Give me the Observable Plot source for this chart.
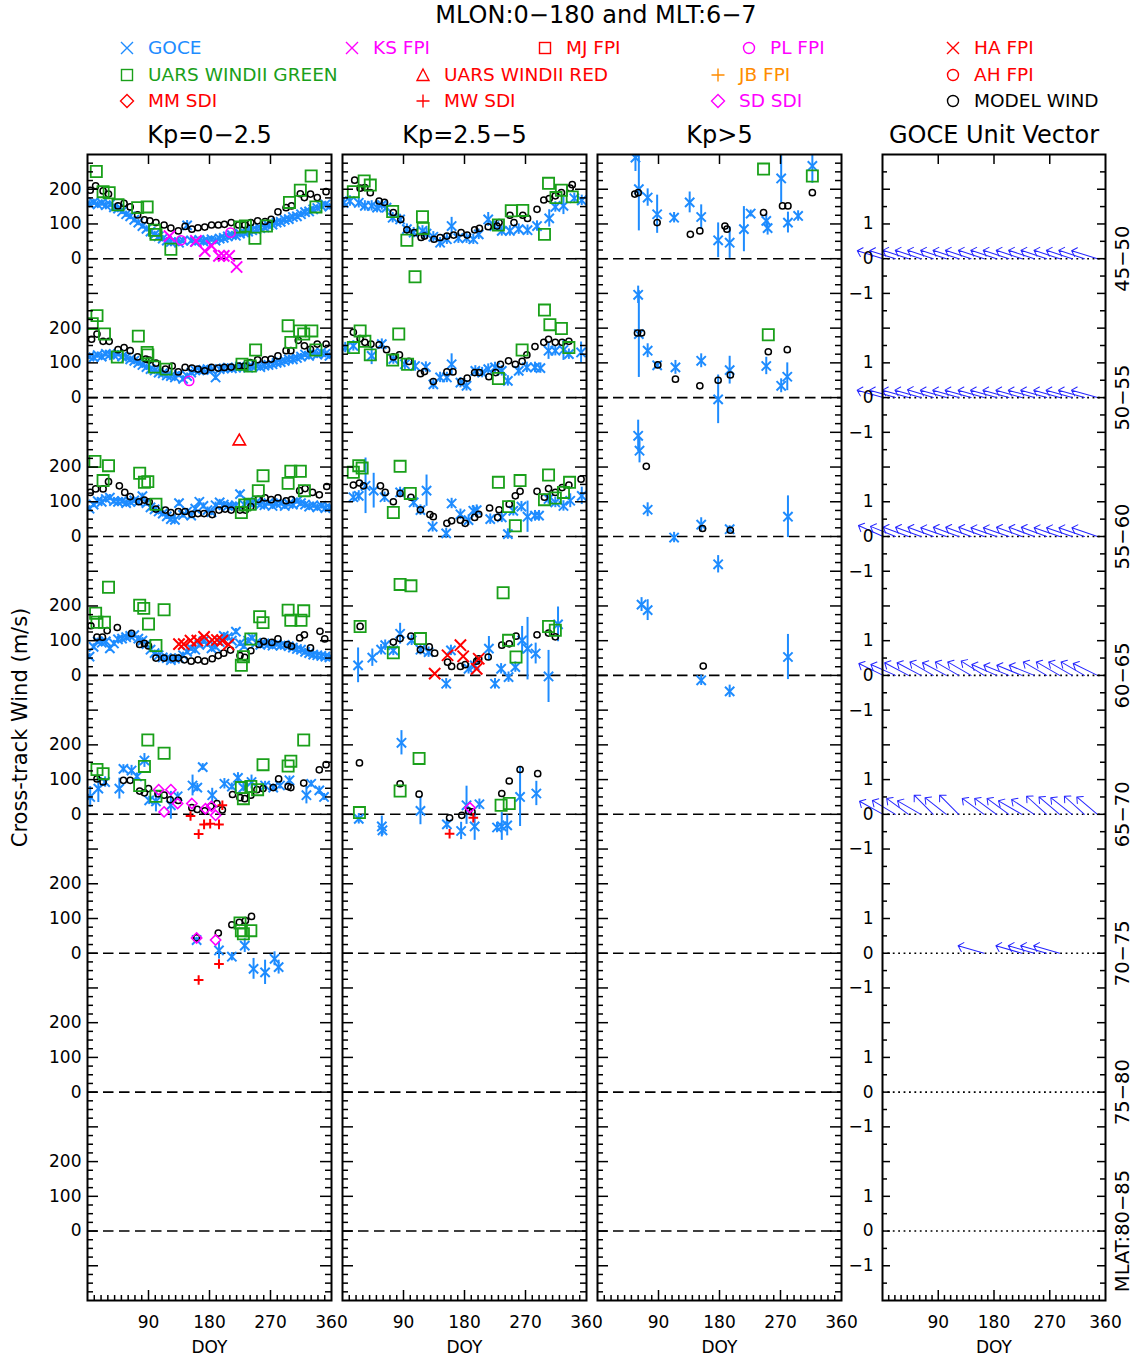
<!DOCTYPE html>
<html>
<head>
<meta charset="utf-8">
<title>Cross-track wind by magnetic latitude, MLON 0–180, MLT 6–7</title>
<script src="https://cdn.jsdelivr.net/npm/d3@7"></script>
<script src="https://cdn.jsdelivr.net/npm/@observablehq/plot@0.6"></script>
<style>
  html, body { margin: 0; padding: 0; background: #fff; }
  #figure { position: relative; width: 1133px; height: 1361px; overflow: hidden; font-family: "DejaVu Sans", sans-serif; color: #000; }
  #figure svg.panel { position: absolute; top: 0; }
  .title { position: absolute; left: 296px; width: 600px; top: 1px; text-align: center; font-size: 24px; line-height: 28px; }
  .lg-sym { position: absolute; width: 16px; height: 16px; }
  .lg-txt { position: absolute; font-size: 18.5px; line-height: 20px; white-space: nowrap; }
</style>
</head>
<body>
<div id="figure"></div>
<script>
// ---------- categories and labels ----------
const BANDS = ["45−50", "50−55", "55−60", "60−65", "65−70", "70−75", "75−80", "80−85"];
const KP_TITLES = ["Kp=0−2.5", "Kp=2.5−5", "Kp>5"];
const DOY_LABELS = [90, 180, 270, 360];
const BAND_LABEL_VALUES = [0, 100, 200];       // m/s labels repeated in every band
const UNIT_LABEL_VALUES = [-1, 0, 1];          // unit-vector labels repeated in every band

// ---------- GOCE cross-track wind: [band, doy, wind m/s, error m/s] ----------
const goceKp1 = [
  [0,3,158],[0,9,162],[0,15,156],[0,21,160],[0,27,154],[0,33,156],[0,39,148],[0,45,144],[0,51,136],[0,57,128],
  [0,63,122],[0,69,112],[0,75,104],[0,81,94],[0,87,86],[0,93,78],[0,99,70],[0,105,64],[0,111,58],[0,117,52],
  [0,123,48],[0,129,50],[0,135,46],[0,141,52],[0,147,96,14],[0,153,52],[0,159,48],[0,165,54],[0,171,50],[0,177,52],
  [0,183,56],[0,189,52],[0,195,58],[0,201,60],[0,207,64],[0,213,68],[0,219,66],[0,225,72],[0,231,76],[0,237,78],
  [0,243,82],[0,249,84],[0,255,88],[0,261,90],[0,267,96],[0,273,98],[0,279,104],[0,285,106],[0,291,112],[0,297,114],
  [0,303,120],[0,309,122],[0,315,128],[0,321,134],[0,327,136],[0,333,142],[0,339,146],[0,345,152],[0,351,156],[0,357,150],
  [1,3,118],[1,9,116],[1,15,122],[1,21,118],[1,27,126],[1,33,124],[1,39,122],[1,45,126],[1,51,118],[1,57,116],
  [1,63,110],[1,69,106],[1,75,100],[1,81,94],[1,87,88],[1,93,82],[1,99,78],[1,105,72],[1,111,70],[1,117,64],
  [1,123,62],[1,129,58],[1,135,66],[1,141,54],[1,147,62],[1,153,72],[1,159,78],[1,165,78],[1,171,80],[1,177,82],
  [1,183,80],[1,189,58],[1,195,82],[1,201,84],[1,207,86],[1,213,84],[1,219,86],[1,225,90],[1,231,88],[1,237,86],
  [1,243,90],[1,249,92],[1,255,88],[1,261,92],[1,267,94],[1,273,96],[1,279,100],[1,285,102],[1,291,106],[1,297,110],
  [1,303,110],[1,309,114],[1,315,118],[1,321,124],[1,327,120],[1,333,128],[1,339,124],[1,345,130],[1,351,126],[1,357,120],
  [2,3,80],[2,9,92],[2,15,102],[2,21,100],[2,27,108],[2,33,112],[2,39,102],[2,45,100],[2,51,102],[2,57,96],
  [2,63,100],[2,69,104],[2,75,100],[2,81,116],[2,87,96],[2,93,84],[2,99,78],[2,105,72],[2,111,66],[2,117,58],
  [2,123,50],[2,129,48],[2,135,96],[2,141,62],[2,147,72],[2,153,60],[2,159,80],[2,165,100],[2,171,88],[2,177,76],
  [2,183,70],[2,189,90],[2,195,98],[2,201,92],[2,207,88],[2,213,86],[2,219,90],[2,225,122],[2,231,92],[2,237,100],
  [2,243,96],[2,249,98],[2,255,92],[2,261,90],[2,267,96],[2,273,88],[2,279,94],[2,285,96],[2,291,88],[2,297,94],
  [2,303,92],[2,309,102],[2,315,96],[2,321,92],[2,327,86],[2,333,90],[2,339,84],[2,345,88],[2,351,82],[2,357,84],
  [3,3,54],[3,9,82],[3,15,98],[3,21,94],[3,27,98],[3,33,78],[3,39,92],[3,45,104],[3,51,106],[3,57,110],
  [3,63,114],[3,69,116],[3,75,106],[3,81,100],[3,87,90],[3,93,74],[3,99,64],[3,105,58],[3,111,52],[3,117,50],
  [3,123,44],[3,129,48],[3,135,50],[3,141,58],[3,147,68],[3,153,78],[3,159,74],[3,165,88],[3,171,98],[3,177,90],
  [3,183,78],[3,189,82],[3,195,96],[3,201,114],[3,207,110],[3,213,100],[3,219,126],[3,225,92],[3,231,84],[3,237,100],
  [3,243,108],[3,249,94],[3,255,88],[3,261,92],[3,267,90],[3,273,86],[3,279,90],[3,285,86],[3,291,88],[3,297,84],
  [3,303,80],[3,309,76],[3,315,74],[3,321,68],[3,327,64],[3,333,60],[3,339,58],[3,345,56],[3,351,54],[3,357,52],
  [4,4,50,30],[4,16,74,40],[4,26,93,15],[4,47,74,30],[4,53,131,12],[4,65,126,15],[4,73,109,10],[4,84,155,20],
  [4,91,40,12],[4,101,37,30],[4,123,26,40],[4,133,52,12],[4,155,83,30],[4,162,77,12],[4,170,136,10],[4,184,55,20],
  [4,202,88,15],[4,213,80,10],[4,222,105,15],[4,230,77,12],[4,242,93,20],[4,262,83,12],[4,274,77,10],[4,284,83,10],
  [4,298,98,12],[4,323,55,25],[4,330,88,10],[4,342,69,12],[4,349,50,10],
  [5,161,38,8],[5,194,8,25],[5,213,-10,12],[5,232,22,20],[5,245,-45,30],[5,262,-55,35],[5,276,-16,20],[5,282,-40,20]
];
const goceKp2 = [
  [0,2,161],[0,11,166],[0,24,161],[0,33,152],[0,43,152],[0,51,147],[0,58,155],[0,65,147],[0,74,118],[0,85,113],
  [0,95,85],[0,105,75],[0,118,80],[0,124,72],[0,134,63],[0,144,46],[0,154,56],[0,161,94,25],[0,171,59],[0,183,59],
  [0,193,56],[0,201,70],[0,215,113,20],[0,224,94],[0,235,80],[0,247,80],[0,260,85],[0,273,82],[0,287,94],[0,305,116,25],
  [0,314,149],[0,326,152,25],[0,342,174],[0,353,168],
  [1,4,144],[1,16,149],[1,43,120,25],[1,58,154],[1,75,111],[1,92,96],[1,107,91],[1,123,88],[1,134,38],[1,144,58],
  [1,154,58],[1,161,96,30],[1,174,43],[1,183,34],[1,196,77],[1,206,72],[1,215,82],[1,225,87],[1,235,77],[1,244,48],
  [1,260,77],[1,272,87],[1,284,87],[1,292,85],[1,304,135,25],[1,314,135],[1,326,137,30],[1,334,125],[1,352,130,30],
  [2,16,113],[2,24,117],[2,34,146,80],[2,46,132,50],[2,62,113],[2,85,127],[2,105,98],[2,115,76],[2,124,132,45],[2,133,28],
  [2,153,9],[2,161,95],[2,174,64],[2,186,47],[2,193,74],[2,198,76],[2,218,50],[2,235,55],[2,244,7],[2,252,74],
  [2,264,86],[2,273,57,45],[2,284,60],[2,290,60],[2,304,108],[2,314,98],[2,326,88],[2,336,103,20],[2,353,117,25],
  [3,23,29,50],[3,44,51,25],[3,57,74],[3,63,87],[3,85,120,30],[3,75,72],[3,102,101],[3,115,74],[3,127,67],[3,153,-24],
  [3,160,72],[3,186,19],[3,195,29],[3,216,77,35],[3,234,19],[3,245,-5],[3,225,-24],[3,255,24],[3,265,101,40],[3,273,77,90],
  [3,285,63,30],[3,304,-3,75],[3,318,147,50],
  [4,24,-13],[4,58,-35,30],[4,59,-46],[4,87,206,35],[4,115,10,40],[4,154,-29],[4,175,-48,25],[4,183,26,55],
  [4,195,-35,40],[4,202,29],[4,228,-38],[4,235,-35,40],[4,243,-32,30],[4,262,50,85],[4,286,60,35]
];
const goceKp3 = [
  [0,56,291,40],[0,61,200,120],[0,74,176,25],[0,88,128,55],[0,113,118,15],[0,136,162,30],[0,153,120,35],[0,178,53,50],
  [0,195,46,45],[0,216,85,65],[0,226,130,10],[0,249,109,20],[0,251,88,20],[0,271,231,70],[0,281,104,30],[0,296,123,15],
  [0,317,267,50],
  [1,60,296,25],[1,61,183,125],[1,74,135,20],[1,88,93,10],[1,115,87,20],[1,153,106,20],[1,178,-5,70],[1,195,79,40],
  [1,249,91,25],[1,271,34,20],[1,280,60,40],
  [2,60,290,45],[2,62,247,35],[2,74,77,20],[2,113,-3,15],[2,153,34,20],[2,178,-80,25],[2,195,21,10],[2,281,57,60],
  [3,65,204,20],[3,74,188,30],[3,153,-14,15],[3,195,-46,18],[3,281,53,65]
];

// ---------- model wind: [band, doy, wind m/s] ----------
const modelKp1 = [
  [0,4,197],[0,12,210],[0,23,195],[0,31,186],[0,45,152],[0,54,159],[0,63,149],[0,74,126],[0,84,112],[0,92,109],
  [0,101,104],[0,113,97],[0,123,88],[0,134,80],[0,144,93],[0,154,85],[0,163,89],[0,173,91],[0,183,97],[0,193,97],
  [0,202,99],[0,212,104],[0,223,97],[0,232,97],[0,241,104],[0,251,109],[0,262,107],[0,271,113],[0,281,135],[0,293,147],
  [0,301,152],[0,314,187],[0,320,176],[0,329,186],[0,339,176],[0,352,193],
  [1,6,168],[1,14,183],[1,23,162],[1,32,162],[1,45,138],[1,54,144],[1,63,135],[1,74,117],[1,86,111],[1,91,108],
  [1,101,99],[1,115,82],[1,125,91],[1,134,74],[1,144,87],[1,154,85],[1,163,82],[1,173,77],[1,183,87],[1,193,85],
  [1,202,87],[1,212,88],[1,223,91],[1,232,91],[1,240,101],[1,251,109],[1,262,109],[1,271,111],[1,281,120],[1,293,135],
  [1,300,135],[1,311,165],[1,320,149],[1,329,139],[1,339,154],[1,352,154],
  [2,4,127],[2,12,137],[2,23,137],[2,31,158],[2,47,146],[2,55,127],[2,63,115],[2,76,100],[2,84,105],[2,91,100],
  [2,101,79],[2,115,76],[2,123,69],[2,134,72],[2,144,72],[2,154,64],[2,163,66],[2,172,66],[2,184,63],[2,194,76],
  [2,203,79],[2,212,76],[2,225,76],[2,233,76],[2,241,86],[2,252,107],[2,262,111],[2,271,106],[2,281,111],[2,293,103],
  [2,301,106],[2,313,132],[2,321,138],[2,332,127],[2,342,120],[2,353,144],
  [3,5,143],[3,14,110],[3,22,110],[3,29,129],[3,44,138],[3,65,121],[3,77,89],[3,84,92],[3,90,85],[3,101,50],
  [3,113,50],[3,126,50],[3,134,50],[3,143,45],[3,153,41],[3,163,45],[3,173,41],[3,184,48],[3,193,57],[3,201,64],
  [3,211,73],[3,225,57],[3,232,52],[3,241,71],[3,253,89],[3,260,98],[3,272,95],[3,281,105],[3,295,89],[3,301,84],
  [3,313,108],[3,320,117],[3,329,79],[3,343,127],[3,350,105],
  [4,14,102],[4,23,93],[4,53,98],[4,63,98],[4,77,67],[4,84,62],[4,90,74],[4,104,59],[4,113,55],[4,122,42],
  [4,134,40],[4,154,19],[4,162,14],[4,173,10],[4,182,23],[4,191,31],[4,199,13],[4,214,57],[4,225,48],[4,232,45],
  [4,241,55],[4,250,71],[4,259,74],[4,274,77],[4,282,102],[4,296,80],[4,300,77],[4,319,90],[4,342,128],[4,352,143],
  [5,161,44],[5,193,58],[5,213,82],[5,224,89],[5,233,94],[5,242,106]
];
const modelKp2 = [
  [0,18,226],[0,26,203],[0,33,205],[0,41,190],[0,54,166],[0,62,162],[0,75,133],[0,86,113],[0,95,83],[0,106,75],
  [0,116,61],[0,121,65],[0,135,56],[0,144,61],[0,154,65],[0,164,68],[0,175,75],[0,184,68],[0,195,83],[0,202,87],
  [0,215,92],[0,228,94],[0,231,104],[0,247,125],[0,253,104],[0,266,125],[0,273,116],[0,287,142],[0,297,169],[0,305,173],
  [0,314,181],[0,323,190],[0,336,203],[0,339,213],
  [1,16,188],[1,26,170],[1,33,159],[1,42,154],[1,54,152],[1,65,138],[1,75,117],[1,84,123],[1,98,104],[1,115,69],
  [1,121,75],[1,134,46],[1,154,74],[1,163,74],[1,175,46],[1,184,56],[1,195,72],[1,202,72],[1,216,60],[1,226,72],
  [1,233,96],[1,245,106],[1,255,96],[1,265,104],[1,272,123],[1,284,147],[1,297,159],[1,304,168],[1,314,159],[1,324,159],
  [1,334,162],
  [2,16,148],[2,25,154],[2,31,146],[2,56,146],[2,63,127],[2,75,100],[2,85,124],[2,101,113],[2,115,77],[2,129,63],
  [2,134,57],[2,154,38],[2,161,45],[2,174,47],[2,181,38],[2,195,55],[2,201,64],[2,217,82],[2,229,55],[2,231,77],
  [2,246,93],[2,255,117],[2,262,130],[2,287,130],[2,298,113],[2,304,138],[2,314,127],[2,324,141],[2,334,148],[2,352,165],
  [3,26,141],[3,75,96],[3,85,106],[3,101,113],[3,115,74],[3,128,82],[3,136,64],[3,155,38],[3,161,26],[3,174,26],
  [3,181,31],[3,198,41],[3,201,48],[3,215,53],[3,235,87],[3,246,91],[3,256,113],[3,287,117],[3,304,122],[3,314,111],
  [4,25,148],[4,85,88],[4,113,58],[4,158,-10],[4,176,-3],[4,186,9],[4,191,7],[4,235,60],[4,246,96],[4,262,129],[4,288,117]
];
const modelKp3 = [
  [0,55,186],[0,60,190],[0,88,104],[0,137,70],[0,151,80],[0,188,94],[0,191,85],[0,245,133],[0,273,152],[0,281,152],[0,317,190],
  [1,59,186],[1,65,186],[1,89,94],[1,115,53],[1,151,34],[1,178,50],[1,196,65],[1,252,132],[1,280,138],
  [2,72,202],[2,155,23],[2,196,18],
  [3,156,27]
];

// ---------- ground and satellite instruments: [kp column, band, doy, wind m/s] ----------
const windiiGreen = [
  [1,0,13,251],[1,0,23,193],[1,0,32,190],[1,0,45,155],[1,0,74,147],[1,0,88,149],[1,0,99,82],[1,0,101,70],[1,0,123,27],
  [1,0,225,91],[1,0,233,94],[1,0,247,59],[1,0,264,94],[1,0,298,162],[1,0,314,197],[1,0,330,238],[1,0,337,149],
  [1,1,7,213],[1,1,14,236],[1,1,25,183],[1,1,44,117],[1,1,75,177],[1,1,88,130],[1,1,89,123],[1,1,99,88],[1,1,116,82],
  [1,1,228,96],[1,1,240,91],[1,1,248,137],[1,1,296,207],[1,1,300,159],[1,1,313,192],[1,1,319,183],[1,1,331,192],[1,1,337,137],
  [1,2,11,216],[1,2,31,204],[1,2,23,161],[1,2,77,182],[1,2,84,156],[1,2,89,158],[1,2,101,93],[1,2,227,69],[1,2,232,91],
  [1,2,240,93],[1,2,252,132],[1,2,259,175],[1,2,296,153],[1,2,300,188],[1,2,314,188],[1,2,320,132],
  [1,3,12,179],[1,3,25,153],[1,3,14,153],[1,3,31,254],[1,3,77,202],[1,3,83,193],[1,3,90,148],[1,3,113,189],[1,3,101,86],
  [1,3,227,29],[1,3,230,54],[1,3,241,105],[1,3,254,169],[1,3,259,152],[1,3,296,188],[1,3,300,159],[1,3,315,159],[1,3,319,186],
  [1,4,14,129],[1,4,23,117],[1,4,84,138],[1,4,89,214],[1,4,113,176],[1,4,77,83],[1,4,101,52],[1,4,227,77],[1,4,230,45],
  [1,4,241,80],[1,4,251,71],[1,4,259,143],[1,4,296,139],[1,4,300,153],[1,4,319,214],
  [1,5,227,65],[1,5,230,56],[1,5,241,65],[1,5,225,87],
  [2,0,16,193],[2,0,32,224],[2,0,41,212],[2,0,74,136],[2,0,118,121],[2,0,119,87],[2,0,95,53],[2,0,107,-52],[2,0,230,97],
  [2,0,249,138],[2,0,266,139],[2,0,298,70],[2,0,304,217],[2,0,315,176],[2,0,323,197],[2,0,339,178],
  [2,1,16,144],[2,1,26,192],[2,1,33,162],[2,1,41,123],[2,1,83,183],[2,1,74,108],[2,1,96,96],[2,1,230,55],[2,1,265,137],
  [2,1,298,252],[2,1,306,210],[2,1,323,199],[2,1,334,144],
  [2,2,16,185],[2,2,24,204],[2,2,29,197],[2,2,85,202],[2,2,75,69],[2,2,100,124],[2,2,230,156],[2,2,262,161],[2,2,255,31],
  [2,2,245,86],[2,2,304,177],[2,2,298,106],[2,2,314,111],[2,2,326,127],[2,2,335,156],
  [2,3,26,141],[2,3,85,262],[2,3,101,258],[2,3,237,238],[2,3,304,141],[2,3,314,130],[2,3,115,106],[2,3,75,65],[2,3,245,101],[2,3,256,53],
  [2,4,25,5],[2,4,85,67],[2,4,113,161],[2,4,234,26],[2,4,246,31],
  [3,0,245,258],[3,0,317,238],
  [3,1,252,181]
];
const windiiRed = [[1,2,224,274]];
const ksFpi = [[1,0,121,65],[1,0,160,51],[1,0,173,22],[1,0,183,37],[1,0,194,8],[1,0,201,8],[1,0,209,8],[1,0,220,-24]];
const plFpi = [[1,0,138,53],[1,0,211,75],[1,1,150,48]];
const haFpi = [
  [1,3,135,90],[1,3,142,90],[1,3,152,100],[1,3,162,100],[1,3,172,111],[1,3,184,102],[1,3,191,102],[1,3,199,100],[1,3,208,89],
  [2,3,136,5],[2,3,155,58],[2,3,174,87],[2,3,178,55],[2,3,198,19],[2,3,201,48]
];
const sdSdi = [
  [1,4,105,71],[1,4,113,7],[1,4,123,71],[1,4,133,31],[1,4,154,31],[1,4,174,16],[1,4,189,-3],[1,4,183,23],
  [1,5,161,44],[1,5,189,38],
  [2,4,188,19]
];
const mwSdi = [
  [1,4,152,-5],[1,4,164,-57],[1,4,172,-29],[1,4,181,-27],[1,4,194,-29],[1,4,199,26],
  [1,5,164,-77],[1,5,194,-31],
  [2,4,158,-56],[2,4,193,-10]
];

// ---------- GOCE unit wind vectors: bin start doy and direction (degrees clockwise from north) ----------
const UV_DOY = [1, 21, 42, 62, 82, 103, 123, 143, 164, 184, 204, 225, 245, 265, 286, 306, 326, 347];
const uvAngle45 = [-73,-73,-72,-72,-72,-72,-72,-72,-72,-72,-72,-72,-72,-72,-72,-72,-72,-73];
const uvAngle50 = [-74,-74,-74,-74,-73,-74,-74,-74,-74,-74,-74,-74,-74,-74,-74,-74,-74,-74];
const uvAngle55 = [-66,-68,-70,-70,-70,-71,-70,-70,-70,-71,-71,-70,-70,-70,-71,-71,-71,-71];
const uvAngle60 = [-64,-66,-62,-62,-60,-62,-60,-60,-58,-66,-68,-68,-68,-60,-60,-60,-60,-64];
const uvAngle65 = [-61,-59,-54,-60,-45,-52,-45,null,-54,-54,-54,-60,-57,-48,-50,-52,-48,-50];
const uvAngle70 = [null,null,null,null,null,null,null,null,-74,null,null,-74,-74,-74,-74,null,null,null];
const UV_ANGLES = [uvAngle45, uvAngle50, uvAngle55, uvAngle60, uvAngle65, uvAngle70];

// ---------- styling ----------
const BLUE = "#1e8cff", GREEN = "#1aa01a", RED = "#ff0000", MAGENTA = "#ff00ff", ORANGE = "#ff8c00", ARROW = "#2424ff";
const FONT = "'DejaVu Sans', sans-serif";

// Each latitude band is stacked 400 m/s below the previous one on a shared axis.
const BAND_STEP = 400;
const Y_DOMAIN = [-(BANDS.length - 1) * BAND_STEP - 200, 300];
const FRAME_TOP = 154, FRAME_BOTTOM = 1300, PAGE_H = 1361;
const INNER_H = FRAME_BOTTOM - FRAME_TOP;
const yOf = (band, v) => v - BAND_STEP * band;
const bandZeros = BANDS.map((_, i) => yOf(i, 0));
const signed = v => (v < 0 ? "−" + Math.abs(v) : String(v));

const fig = document.getElementById("figure");

// title
const title = document.createElement("div");
title.className = "title";
title.textContent = "MLON:0−180 and MLT:6−7";
fig.appendChild(title);

// legend (symbol, label, colour) laid out in three rows
const LEGEND_ROWS = [
  [["times", "GOCE", BLUE], ["times", "KS FPI", MAGENTA], ["square", "MJ FPI", RED], ["circle", "PL FPI", MAGENTA], ["times", "HA FPI", RED]],
  [["square", "UARS WINDII GREEN", GREEN], ["triangle", "UARS WINDII RED", RED], ["plus", "JB FPI", ORANGE], ["circle", "AH FPI", RED]],
  [["diamond", "MM SDI", RED], ["plus", "MW SDI", RED], ["diamond", "SD SDI", MAGENTA], ["circle", "MODEL WIND", "#000"]]
];
const LEGEND_X = [[127, 352, 545, 749, 953], [127, 423, 718, 953], [127, 423, 718, 953]];
const LEGEND_Y = [48, 75, 101];
const SYMBOL_PATHS = {
  times: "<path d='M2,2L14,14M2,14L14,2'/>",
  square: "<rect x='2.5' y='2.5' width='11' height='11'/>",
  circle: "<circle cx='8' cy='8' r='5.5'/>",
  triangle: "<path d='M8,2L14,13.5L2,13.5Z'/>",
  plus: "<path d='M8,1.5V14.5M1.5,8H14.5'/>",
  diamond: "<path d='M8,1.5L14.5,8L8,14.5L1.5,8Z'/>"
};
LEGEND_ROWS.forEach((row, r) => row.forEach(([sym, label, color], c) => {
  const x = LEGEND_X[r][c], y = LEGEND_Y[r];
  const s = document.createElement("div");
  s.className = "lg-sym";
  s.style.left = (x - 8) + "px"; s.style.top = (y - 8) + "px";
  s.innerHTML = `<svg width="16" height="16" viewBox="0 0 16 16" fill="none" stroke="${color}" stroke-width="1.4">${SYMBOL_PATHS[sym]}</svg>`;
  fig.appendChild(s);
  const t = document.createElement("div");
  t.className = "lg-txt";
  t.style.left = (x + 21) + "px"; t.style.top = (y - 10) + "px"; t.style.color = color;
  t.textContent = label;
  fig.appendChild(t);
}));

function place(svg, left) {
  svg.classList.add("panel");
  svg.style.left = left + "px";
  fig.appendChild(svg);
}

// box ticks pointing inward on all four sides
function boxTicks(innerW, yMajor, yMinor, majorLen, minorLen) {
  const xMajor = [90, 180, 270];
  const xMinor = d3.range(10, 360, 10).filter(d => d % 90 !== 0);
  const sw = 1.5;
  return [
    Plot.tickY(yMajor, {insetRight: innerW - majorLen, strokeWidth: sw}),
    Plot.tickY(yMinor, {insetRight: innerW - minorLen, strokeWidth: sw}),
    Plot.tickY(yMajor, {insetLeft: innerW - majorLen, strokeWidth: sw}),
    Plot.tickY(yMinor, {insetLeft: innerW - minorLen, strokeWidth: sw}),
    Plot.tickX(xMajor, {insetBottom: INNER_H - 10, strokeWidth: sw}),
    Plot.tickX(xMajor, {insetTop: INNER_H - 10, strokeWidth: sw}),
    Plot.tickX(xMinor, {insetTop: INNER_H - 5, strokeWidth: sw}),
    Plot.frame({strokeWidth: 2})
  ];
}

function xLabels() {
  return [
    Plot.axisX({ticks: DOY_LABELS, anchor: "bottom", tickSize: 0, tickPadding: 15, tickFormat: d => String(d), label: null, fontSize: 17}),
    Plot.text(["DOY"], {frameAnchor: "bottom", dy: 47, fontSize: 17, lineAnchor: "middle"})
  ];
}

function panelTitle(text) {
  return Plot.text([text], {frameAnchor: "top", dy: -19, fontSize: 24, lineAnchor: "middle"});
}

// ---------- wind panels, one per Kp range ----------
const GOCE_BY_KP = [goceKp1, goceKp2, goceKp3];
const MODEL_BY_KP = [modelKp1, modelKp2, modelKp3];
const PANEL_LEFT = [87, 342, 597];
const PANEL_W = 244;

KP_TITLES.forEach((kpTitle, c) => {
  const kp = c + 1;
  const ML = c === 0 ? 87 : 40, MR = 40;
  const goce = GOCE_BY_KP[c].map(([b, doy, v, err]) => ({doy, y: yOf(b, v), err: err ?? (kp === 1 ? 9 : 15)}));
  const model = MODEL_BY_KP[c].map(([b, doy, v]) => ({doy, y: yOf(b, v)}));
  const pick = rows => rows.filter(r => r[0] === kp).map(([, b, doy, v]) => ({doy, y: yOf(b, v)}));
  const dots = (rows, symbol, r, stroke, strokeWidth = 1.6) =>
    Plot.dot(pick(rows), {x: "doy", y: "y", symbol, r, stroke, fill: "none", strokeWidth, clip: true});

  const yMajor = d3.range(Y_DOMAIN[0] + 100, Y_DOMAIN[1], 100);
  const yMinor = d3.range(Y_DOMAIN[0] + 25, Y_DOMAIN[1], 25).filter(v => v % 100 !== 0);
  const yLabelTicks = bandZeros.flatMap(z => BAND_LABEL_VALUES.map(v => z + v));

  const marks = [
    Plot.ruleY(bandZeros, {stroke: "#000", strokeWidth: 1.6, strokeDasharray: "10.5,5.5"}),
    Plot.ruleX(goce, {x: "doy", y1: d => d.y - d.err, y2: d => d.y + d.err, stroke: BLUE, strokeWidth: 2, clip: true}),
    Plot.dot(goce, {x: "doy", y: "y", symbol: "times", r: 4.3, stroke: BLUE, strokeWidth: 2, clip: true}),
    Plot.dot(model, {x: "doy", y: "y", symbol: "circle", r: 3.1, stroke: "#000", fill: "none", strokeWidth: 1.5, clip: true}),
    dots(windiiGreen, "square", 6.3, GREEN, 1.8),
    dots(windiiRed, "triangle", 4.6, RED, 1.6),
    dots(ksFpi, "times", 5.2, MAGENTA, 2),
    dots(plFpi, "circle", 4.6, MAGENTA, 1.6),
    dots(haFpi, "times", 5.2, RED, 2),
    dots(sdSdi, "diamond2", 4.6, MAGENTA, 1.6),
    dots(mwSdi, "plus", 3.2, RED, 2),
    ...boxTicks(PANEL_W, yMajor, yMinor, 11, 6),
    ...xLabels(),
    panelTitle(kpTitle)
  ];
  if (c === 0) {
    marks.push(
      Plot.axisY({ticks: yLabelTicks, anchor: "left", tickSize: 0, tickPadding: 6, label: null, fontSize: 17,
                  tickFormat: d => String(((d % BAND_STEP) + BAND_STEP) % BAND_STEP)}),
      Plot.text(["Cross-track Wind (m/s)"], {frameAnchor: "left", dx: -67, rotate: -90, fontSize: 21,
                                             textAnchor: "middle", lineAnchor: "middle"})
    );
  }

  const svg = Plot.plot({
    width: ML + PANEL_W + MR, height: PAGE_H,
    marginLeft: ML, marginRight: MR, marginTop: FRAME_TOP, marginBottom: PAGE_H - FRAME_BOTTOM,
    x: {domain: [0, 360], axis: null},
    y: {domain: Y_DOMAIN, axis: null},
    style: {background: "transparent", overflow: "visible", fontFamily: FONT, fontSize: "17px", color: "#000"},
    marks
  });
  place(svg, PANEL_LEFT[c] - ML);
});

// ---------- GOCE unit vector panel ----------
{
  const ML = 60, MR = 40, W = 223, LEFT = 882;
  const vectors = UV_ANGLES.flatMap((angles, b) =>
    angles.map((a, i) => (a == null ? null : {doy: UV_DOY[i], y: yOf(b, 0), a})).filter(Boolean));
  const yMajor = d3.range(Y_DOMAIN[0] + 100, Y_DOMAIN[1], 100);
  const yMinor = d3.range(Y_DOMAIN[0] + 50, Y_DOMAIN[1], 100);
  const unitTicks = bandZeros.flatMap(z => UNIT_LABEL_VALUES.map(u => z + u * 100)).filter(v => v > Y_DOMAIN[0] && v < Y_DOMAIN[1]);

  const svg = Plot.plot({
    width: ML + W + MR, height: PAGE_H,
    marginLeft: ML, marginRight: MR, marginTop: FRAME_TOP, marginBottom: PAGE_H - FRAME_BOTTOM,
    x: {domain: [0, 360], axis: null},
    y: {domain: Y_DOMAIN, axis: null},
    style: {background: "transparent", overflow: "visible", fontFamily: FONT, fontSize: "17px", color: "#000"},
    marks: [
      Plot.ruleY(bandZeros, {stroke: "#000", strokeWidth: 1.6, strokeDasharray: "1.8,3.6"}),
      Plot.vector(vectors, {x: "doy", y: "y", rotate: "a", length: 27, anchor: "start", stroke: ARROW, strokeWidth: 1, r: 3}),
      ...boxTicks(W, yMajor, yMinor, 8, 5),
      ...xLabels(),
      Plot.axisY({ticks: unitTicks, anchor: "left", tickSize: 0, tickPadding: 9, label: null, fontSize: 17,
                  tickFormat: d => signed((((d + 100) % BAND_STEP) + BAND_STEP) % BAND_STEP / 100 - 1)}),
      Plot.text(BANDS, {y: (d, i) => yOf(i, 0), frameAnchor: "right", dx: 17, rotate: -90, fontSize: 19.5,
                        textAnchor: "middle", lineAnchor: "middle",
                        text: (d, i) => (i === BANDS.length - 1 ? "MLAT:" + d : d)}),
      panelTitle("GOCE Unit Vector")
    ]
  });
  place(svg, LEFT - ML);
}
</script>
</body>
</html>
